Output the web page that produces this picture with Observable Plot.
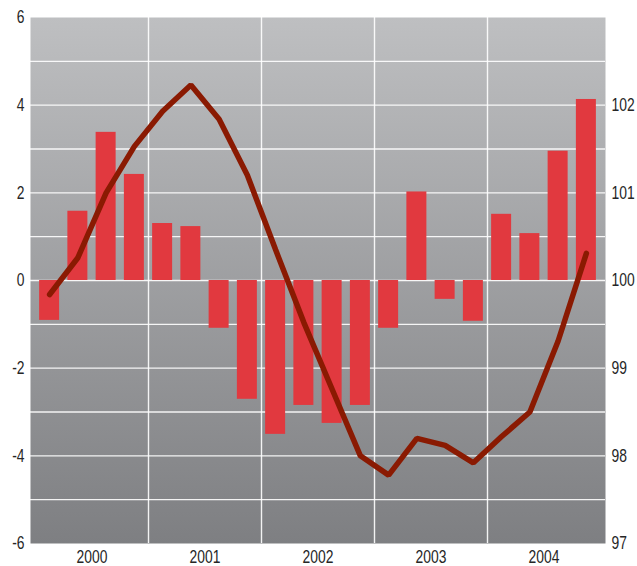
<!DOCTYPE html>
<html><head><meta charset="utf-8">
<script src="https://cdn.jsdelivr.net/npm/d3@7"></script>
<script src="https://cdn.jsdelivr.net/npm/@observablehq/plot@0.6"></script>
<style>
body{margin:0;background:#fff;}
</style>
</head><body><div id="chart"></div>
<script>
const years = [2000, 2001, 2002, 2003, 2004];
const quarters = [1, 2, 3, 4];
// quarterly bars (left axis)
const barValues = [-0.91, 1.58, 3.38, 2.42, 1.30, 1.23, -1.09, -2.71, -3.51, -2.85, -3.26, -2.85, -1.09, 2.02, -0.43, -0.93, 1.51, 1.07, 2.95, 4.13];
// index line (right axis)
const lineValues = [99.84, 100.26, 101.0, 101.53, 101.93, 102.23, 101.84, 101.2, 100.35, 99.52, 98.76, 98.0, 97.78, 98.2, 98.12, 97.92, 98.22, 98.5, 99.31, 100.31];
const leftTicks = [-6, -4, -2, 0, 2, 4, 6];
const rightTicks = [97, 98, 99, 100, 101, 102];
const gridValues = [-5, -4, -3, -2, -1, 0, 1, 2, 3, 4, 5];
const rightBase = 100, rightFactor = 2; // right value 100 ↔ left 0, 1 right unit = 2 left units

const rows = barValues.map((v, i) => ({
  t: years[Math.floor(i / 4)] + (quarters[i % 4] - 0.5) / 4,
  bar: v,
  idx: lineValues[i]
}));
const toLeft = v => (v - rightBase) * rightFactor;
const halfBar = 0.0885;

const gradient = () => {
  const ns = "http://www.w3.org/2000/svg";
  const defs = document.createElementNS(ns, "defs");
  const lg = document.createElementNS(ns, "linearGradient");
  lg.setAttribute("id", "bggrad");
  lg.setAttribute("x1", "0"); lg.setAttribute("y1", "0");
  lg.setAttribute("x2", "0"); lg.setAttribute("y2", "1");
  [["0%", "#bebfc1"], ["100%", "#7e7f82"]].forEach(([o, c]) => {
    const s = document.createElementNS(ns, "stop");
    s.setAttribute("offset", o); s.setAttribute("stop-color", c);
    lg.appendChild(s);
  });
  defs.appendChild(lg);
  return defs;
};

const chart = Plot.plot({
  width: 637,
  height: 566,
  marginLeft: 30,
  marginRight: 32,
  marginTop: 17,
  marginBottom: 23,
  style: {fontSize: "18px", color: "#262626", background: "#fff", fontFamily: "'Liberation Sans', Arial, sans-serif"},
  x: {domain: [2000, 2005], inset: 5},
  y: {domain: [-6, 6]},
  marks: [
    gradient,
    Plot.frame({fill: "url(#bggrad)", stroke: "none"}),
    Plot.ruleY(gridValues, {stroke: "#fff", strokeWidth: 1.4, strokeOpacity: 0.9}),
    Plot.ruleX(years.slice(1), {stroke: "#fff", strokeWidth: 1.4, strokeOpacity: 0.9}),
    Plot.rectY(rows, {x1: d => d.t - halfBar, x2: d => d.t + halfBar, y1: 0, y2: "bar", fill: "#e1393f"}),
    Plot.line(rows, {x: "t", y: d => toLeft(d.idx), stroke: "#8a1a02", strokeWidth: 5.5, strokeLinejoin: "miter", strokeLinecap: "round"}),
    Plot.axisY(leftTicks, {anchor: "left", label: null, tickSize: 0, tickPadding: 6, tickFormat: d => String(d), fontSize: 18}),
    Plot.axisY(rightTicks.map(toLeft), {anchor: "right", label: null, tickSize: 0, tickPadding: 6, tickFormat: d => String(d / rightFactor + rightBase), fontSize: 18}),
    Plot.axisX(years.map(y => y + 0.5), {anchor: "bottom", label: null, tickSize: 0, tickPadding: 7, tickFormat: d => String(Math.floor(d)), fontSize: 18})
  ]
});
document.getElementById("chart").appendChild(chart);
// condense the tick labels horizontally (around each label's anchor) to mimic the narrow typeface
d3.select(chart).selectAll("g[aria-label$='tick label'] text").each(function () {
  const tr = this.getAttribute("transform") || "";
  this.setAttribute("transform", (tr + " scale(0.77,1)").trim());
});
</script>
</body></html>
